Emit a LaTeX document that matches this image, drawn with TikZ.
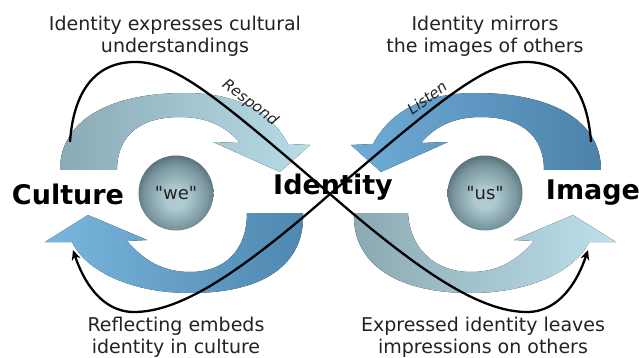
\documentclass[tikz,border=0pt]{standalone}
\usepackage{fontspec}
\setmainfont{DejaVu Sans}
\usetikzlibrary{arrows.meta,positioning}

\definecolor{txtgray}{HTML}{222222}
\definecolor{ltA}{HTML}{8AAAB6}
\definecolor{ltB}{HTML}{B8DDE7}
\definecolor{lbA}{HTML}{7BB6DF}
\definecolor{lbB}{HTML}{4E88AF}
\definecolor{rtA}{HTML}{6EACD8}
\definecolor{rtB}{HTML}{4C82A9}
\definecolor{rbA}{HTML}{8BA9B3}
\definecolor{rbB}{HTML}{BDE0EA}
\definecolor{sphLight}{HTML}{AFCBD1}
\definecolor{sphMid}{HTML}{7A979F}
\definecolor{sphDark}{HTML}{43575F}

\pgfdeclareradialshading{spheresh}{\pgfpoint{0bp}{-4bp}}{color(0bp)=(sphLight); color(7bp)=(sphLight); color(21bp)=(sphMid); color(31bp)=(sphDark); color(50bp)=(sphDark)}

\begin{document}
\begin{tikzpicture}[x=1pt,y=-1pt,every node/.style={outer sep=0pt,text=txtgray},
 ball/.style={circle,minimum size=75pt,shade,shading=spheresh,
 font=\fontsize{18}{20}\selectfont},
 keyword/.style={font=\fontsize{27}{30}\selectfont\bfseries,text=black},
 caption/.style={align=center,font=\fontsize{19}{22}\selectfont},
 verb/.style={font=\fontsize{15}{17}\selectfont\itshape},
 loopline/.style={line width=2.3pt,-{Stealth[length=10pt,width=9pt]}}]

 \useasboundingbox (0,0) rectangle (639,358);

 % the four bent arrows
 \fill[left color=ltA,right color=ltB] (60,170) .. controls (60,120) and (110,93) .. (185,93)
  .. controls (235,93) and (270,110) .. (288,144) -- (310,145) -- (280,172) -- (213,142)
  -- (240,143) .. controls (225,125) and (205,117) .. (180,117)
  .. controls (135,117) and (117,140) .. (117,170) -- cycle;
 \fill[left color=lbA,right color=lbB] (303,213) .. controls (305,260) and (270,293) .. (190,293)
  .. controls (130,293) and (85,270) .. (72,242) -- (45,242) -- (88,215) -- (147,240)
  -- (127,241) .. controls (145,262) and (165,272) .. (190,272)
  .. controls (225,272) and (247,250) .. (247,213) -- cycle;
 \fill[left color=rtA,right color=rtB] (601,170) .. controls (601,120) and (551,93) .. (476,93)
  .. controls (426,93) and (391,110) .. (373,144) -- (351,145) -- (381,172) -- (448,142)
  -- (421,143) .. controls (436,125) and (456,117) .. (481,117)
  .. controls (526,117) and (544,140) .. (544,170) -- cycle;
 \fill[left color=rbA,right color=rbB] (354,213) .. controls (352,260) and (391,293) .. (471,293)
  .. controls (531,293) and (576,270) .. (589,242) -- (616,242) -- (573,215) -- (514,240)
  -- (534,241) .. controls (516,262) and (496,272) .. (471,272)
  .. controls (436,272) and (410,250) .. (408,213) -- cycle;

 \node[ball] (we) at (176,193) {{\itshape\textquotedbl}we{\itshape\textquotedbl}};
 \node[ball] (us) at (485,193) {{\itshape\textquotedbl}us{\itshape\textquotedbl}};

 \node[keyword] (culture) at (68,194) {Culture};
 \node[keyword] (identity) at (333,187) {Identity};
 \node[keyword] (image) at (593,193) {Image};

 \node[caption] (expresses) at (175,36) {Identity expresses cultural\\understandings};
 \node[caption] (mirrors) at (485,36) {Identity mirrors\\the images of others};
 \node[caption] (reflecting) at (176,337) {Reflecting embeds\\identity in culture};
 \node[caption] (leaves) at (483,337) {Expressed identity leaves\\impressions on others};

 \coordinate (startL) at (70,142);
 \coordinate (startR) at (591,142);
 \coordinate (cross) at (330,194);
 \coordinate (endL) at (73,250);
 \coordinate (endR) at (588,250);

 \draw[loopline] (startL) .. controls (74,85) and (100,62) .. (135,62)
  .. controls (175,62) and (215,95) .. (cross)
  .. controls (420,272) and (480,312) .. (527,312)
  .. controls (560,312) and (578,280) .. (endR);
 \draw[loopline] (startR) .. controls (587,85) and (561,62) .. (526,62)
  .. controls (486,62) and (446,95) .. (cross)
  .. controls (241,272) and (181,312) .. (134,312)
  .. controls (101,312) and (83,280) .. (endL);

 \node[verb,rotate=-37] (respond) at (250,103) {Respond};
 \node[verb,rotate=37] (listen) at (427,98) {Listen};

\end{tikzpicture}
\end{document}
